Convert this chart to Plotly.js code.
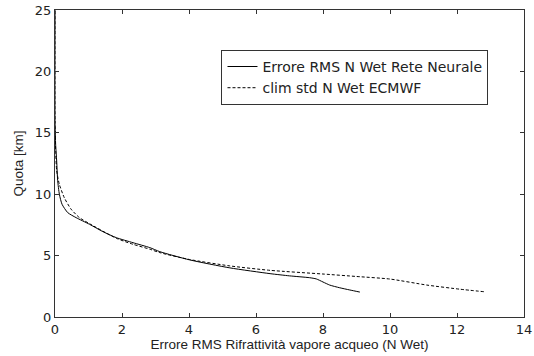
<!DOCTYPE html>
<html><head><meta charset="utf-8">
<script src="https://cdn.plot.ly/plotly-3.0.1.min.js"></script>
<style>html,body{margin:0;padding:0;background:#fff}</style>
</head><body><div id="chart" style="width:534px;height:356px"></div>
<script>
const nnX = [9.1, 8.8, 8.5, 8.2, 8.0, 7.8, 7.6, 7.0, 6.42, 5.22, 4.02, 3.13, 2.83, 2.33, 1.83, 1.43, 1.03, 0.63, 0.38, 0.21, 0.13, 0.08, 0.05, 0.02, 0.0, 0.0];
const nnY = [2.03, 2.2, 2.38, 2.6, 2.85, 3.1, 3.2, 3.35, 3.53, 4.0, 4.65, 5.32, 5.65, 6.05, 6.46, 6.95, 7.55, 8.09, 8.5, 9.18, 10.0, 11.1, 12.7, 14.0, 16.0, 25.0];
const ecX = [12.8, 12.1, 11.1, 10.0, 9.0, 8.0, 6.42, 5.22, 4.02, 3.13, 2.83, 2.33, 1.83, 1.03, 0.73, 0.48, 0.28, 0.13, 0.05, 0.02, 0.0, 0.0];
const ecY = [2.06, 2.26, 2.6, 3.09, 3.3, 3.5, 3.8, 4.16, 4.68, 5.24, 5.52, 5.92, 6.41, 7.6, 8.09, 8.78, 9.7, 10.8, 11.9, 13.5, 16.0, 25.0];
const xTicks = [0, 2, 4, 6, 8, 10, 12, 14];
const yTicks = [0, 5, 10, 15, 20, 25];

const traces = [
  {x: nnX, y: nnY, mode: 'lines', name: 'Errore RMS N Wet Rete Neurale', line: {color: '#000', width: 1, shape: 'spline', smoothing: 0.6}},
  {x: ecX, y: ecY, mode: 'lines', name: 'clim std N Wet ECMWF', line: {color: '#000', width: 1, dash: '3px,2px', shape: 'spline', smoothing: 0.6}}
];
const tickFont = {family: 'DejaVu Sans, sans-serif', size: 13, color: '#222'};
const titleFont = {family: 'Liberation Sans, Arial, sans-serif', size: 13.5, color: '#222'};
const axisBase = {showgrid: false, zeroline: false, showline: true, linecolor: '#333', linewidth: 1,
  mirror: 'ticks', ticks: 'inside', ticklen: 4, tickcolor: '#333', tickfont: tickFont};
const layout = {
  width: 534, height: 356,
  margin: {l: 55, r: 10, t: 10, b: 39},
  paper_bgcolor: '#fff', plot_bgcolor: '#fff',
  font: tickFont,
  showlegend: true,
  legend: {x: 0.355, y: 0.87, xanchor: 'left', yanchor: 'top', bordercolor: '#333', borderwidth: 1,
    bgcolor: '#fff', font: {family: 'DejaVu Sans, sans-serif', size: 14, color: '#222'},
    itemwidth: 30, tracegroupgap: 0},
  xaxis: Object.assign({}, axisBase, {range: [0, 14], tickvals: xTicks,
    title: {text: 'Errore RMS Rifrattività vapore acqueo (N Wet)', font: titleFont, standoff: 2}}),
  yaxis: Object.assign({}, axisBase, {range: [0, 25], tickvals: yTicks,
    title: {text: 'Quota [km]', font: titleFont, standoff: 8}})
};
Plotly.newPlot('chart', traces, layout, {staticPlot: true, displayModeBar: false});
</script></body></html>
